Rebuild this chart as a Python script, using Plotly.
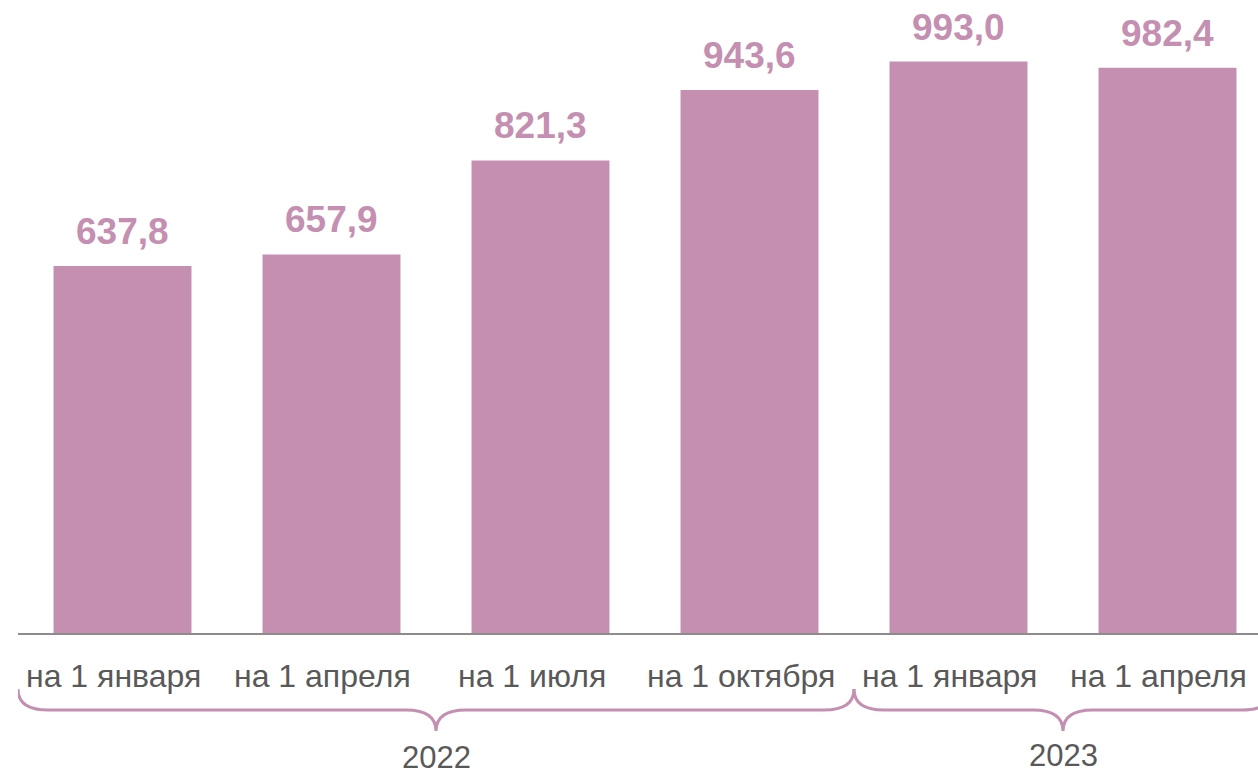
import plotly.graph_objects as go

categories = ["на 1 января", "на 1 апреля", "на 1 июля", "на 1 октября", "на 1 января", "на 1 апреля"]
values = [637.8, 657.9, 821.3, 943.6, 993.0, 982.4]
value_labels = ["637,8", "657,9", "821,3", "943,6", "993,0", "982,4"]
years = ["2022", "2023"]
year_groups = [(0, 3), (4, 5)]

BAR = "#C48FB0"
TXT = "#595959"
FONT = "Arial, Liberation Sans, sans-serif"

W, H = 1258, 774
ML, MR, MT, MB = 18, 0, 0, 141
PH = H - MT - MB

def py2paper(py):
    return (H - MB - py) / PH

x = list(range(len(categories)))

fig = go.Figure(go.Bar(x=x, y=values, marker_color=BAR, marker_line_width=0,
                       hoverinfo="skip"))

ann = []
for i, (v, t) in enumerate(zip(values, value_labels)):
    ann.append(dict(x=i, y=v, xref="x", yref="y", text=f"<b>{t}</b>", showarrow=False,
                    yanchor="bottom", yshift=12,
                    font=dict(family=FONT, size=37, color=BAR)))
for i, c in enumerate(categories):
    ann.append(dict(x=i, y=py2paper(676), xref="x", yref="paper", text=c, showarrow=False,
                    yanchor="middle", xshift=-9,
                    font=dict(family=FONT, size=32, color=TXT)))

shapes = []
ytop, ymid, ytip = 689, 710, 731
dx = 30 / 209
for (a, b), yr, yy in zip(year_groups, years, [757, 755]):
    x0, x1 = a - 0.5, b + 0.5
    c = (x0 + x1) / 2
    p = lambda py: py2paper(py)
    path = (f"M {x0},{p(ytop)} Q {x0},{p(ymid)} {x0+dx},{p(ymid)} "
            f"L {c-dx},{p(ymid)} Q {c},{p(ymid)} {c},{p(ytip)} "
            f"Q {c},{p(ymid)} {c+dx},{p(ymid)} "
            f"L {x1-dx},{p(ymid)} Q {x1},{p(ymid)} {x1},{p(ytop)}")
    shapes.append(dict(type="path", path=path, xref="x", yref="paper",
                       line=dict(color=BAR, width=3)))
    ann.append(dict(x=c, y=py2paper(yy), xref="x", yref="paper", text=yr, showarrow=False,
                    yanchor="middle",
                    font=dict(family=FONT, size=31, color=TXT)))

fig.update_layout(
    width=W, height=H,
    margin=dict(l=ML, r=MR, t=MT, b=MB, pad=0),
    plot_bgcolor="white", paper_bgcolor="white",
    bargap=0.34,
    showlegend=False,
    xaxis=dict(range=[-0.5, -0.5 + (W - ML - MR) / 209], showgrid=False, zeroline=False,
               showticklabels=False, ticks="", showline=True, linecolor="#8C8C8C", linewidth=1.5),
    yaxis=dict(range=[0, 1100], visible=False, showgrid=False, zeroline=False),
    annotations=ann,
    shapes=shapes,
)

fig.write_html("out.html", config={"displayModeBar": False},
               post_script="document.body.style.margin='0';document.body.style.overflow='hidden';")
